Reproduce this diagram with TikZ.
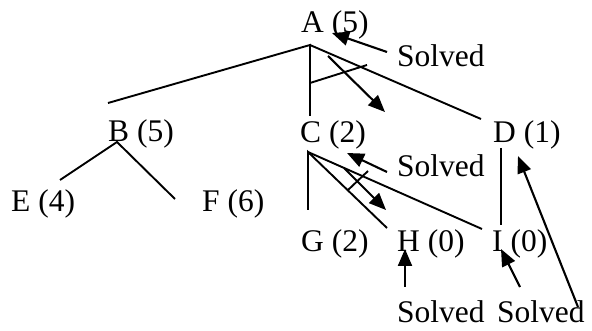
\documentclass[tikz,border=0pt]{standalone}
\usepackage{fontspec}
\setmainfont{Liberation Serif}
\usetikzlibrary{arrows.meta}
\begin{document}
\begin{tikzpicture}[x=1pt,y=-1pt,
  lbl/.style={anchor=base west,inner sep=0pt,font=\fontsize{31.5}{36}\selectfont},
  edge/.style={line width=1.9pt},
  solvedarrow/.style={line width=2.1pt,-{Triangle[length=17pt,width=14pt]}}]
\useasboundingbox (0,0) rectangle (592,331);
% labels
\node[lbl] (A) at (301,33) {A (5)};
\node[lbl] (sA) at (397,67) {Solved};
\node[lbl] (B) at (108,142) {B (5)};
\node[lbl] (C) at (300,143) {C (2)};
\node[lbl] (D) at (493,143) {D (1)};
\node[lbl] (sC) at (397,177) {Solved};
\node[lbl] (E) at (11,212) {E (4)};
\node[lbl] (F) at (202,212) {F (6)};
\node[lbl] (G) at (301,252) {G (2)};
\node[lbl] (H) at (397,252) {H (0)};
\node[lbl] (I) at (492,252) {I (0)};
\node[lbl] (sH) at (397,323) {Solved};
\node[lbl] (sI) at (497,323) {Solved};
% connector end points
\coordinate (a) at (310,45);
\coordinate (ab) at (108,103);
\coordinate (ac) at (310,116);
\coordinate (ad) at (481,119);
\coordinate (arc1) at (310,83);
\coordinate (arc2) at (367,65);
\coordinate (b) at (117,142);
\coordinate (be) at (60,180);
\coordinate (bf) at (175,199);
\coordinate (c) at (308,152);
\coordinate (cg) at (308,210);
\coordinate (ch) at (387,228);
\coordinate (ci) at (482,229);
\coordinate (arc3) at (348,190);
\coordinate (arc4) at (368,171);
\coordinate (d) at (501,148);
\coordinate (di) at (501,225);
% arrow end points
\coordinate (p1) at (328,56);
\coordinate (p1t) at (385,112);
\coordinate (p2) at (344,168);
\coordinate (p2t) at (386,210);
\coordinate (qA) at (387,52);
\coordinate (qAt) at (332,33);
\coordinate (qC) at (387,172);
\coordinate (qCt) at (347,153);
\coordinate (qH) at (405,287);
\coordinate (qHt) at (405,249);
\coordinate (qI) at (520,287);
\coordinate (qIt) at (501,249);
\coordinate (qD) at (578,307);
\coordinate (qDt) at (518,156);
% tree edges
\draw[edge] (ab) -- (a) -- (ac);
\draw[edge] (a) -- (ad);
\draw[edge] (arc1) -- (arc2);
\draw[edge] (be) -- (b) -- (bf);
\draw[edge] (cg) -- (c) -- (ch);
\draw[edge] (c) -- (ci);
\draw[edge] (arc3) -- (arc4);
\draw[edge] (d) -- (di);
% arrows
\draw[solvedarrow] (p1) -- (p1t);
\draw[solvedarrow] (p2) -- (p2t);
\draw[solvedarrow] (qA) -- (qAt);
\draw[solvedarrow] (qC) -- (qCt);
\draw[solvedarrow] (qH) -- (qHt);
\draw[solvedarrow] (qI) -- (qIt);
\draw[solvedarrow] (qD) -- (qDt);
\end{tikzpicture}
\end{document}
